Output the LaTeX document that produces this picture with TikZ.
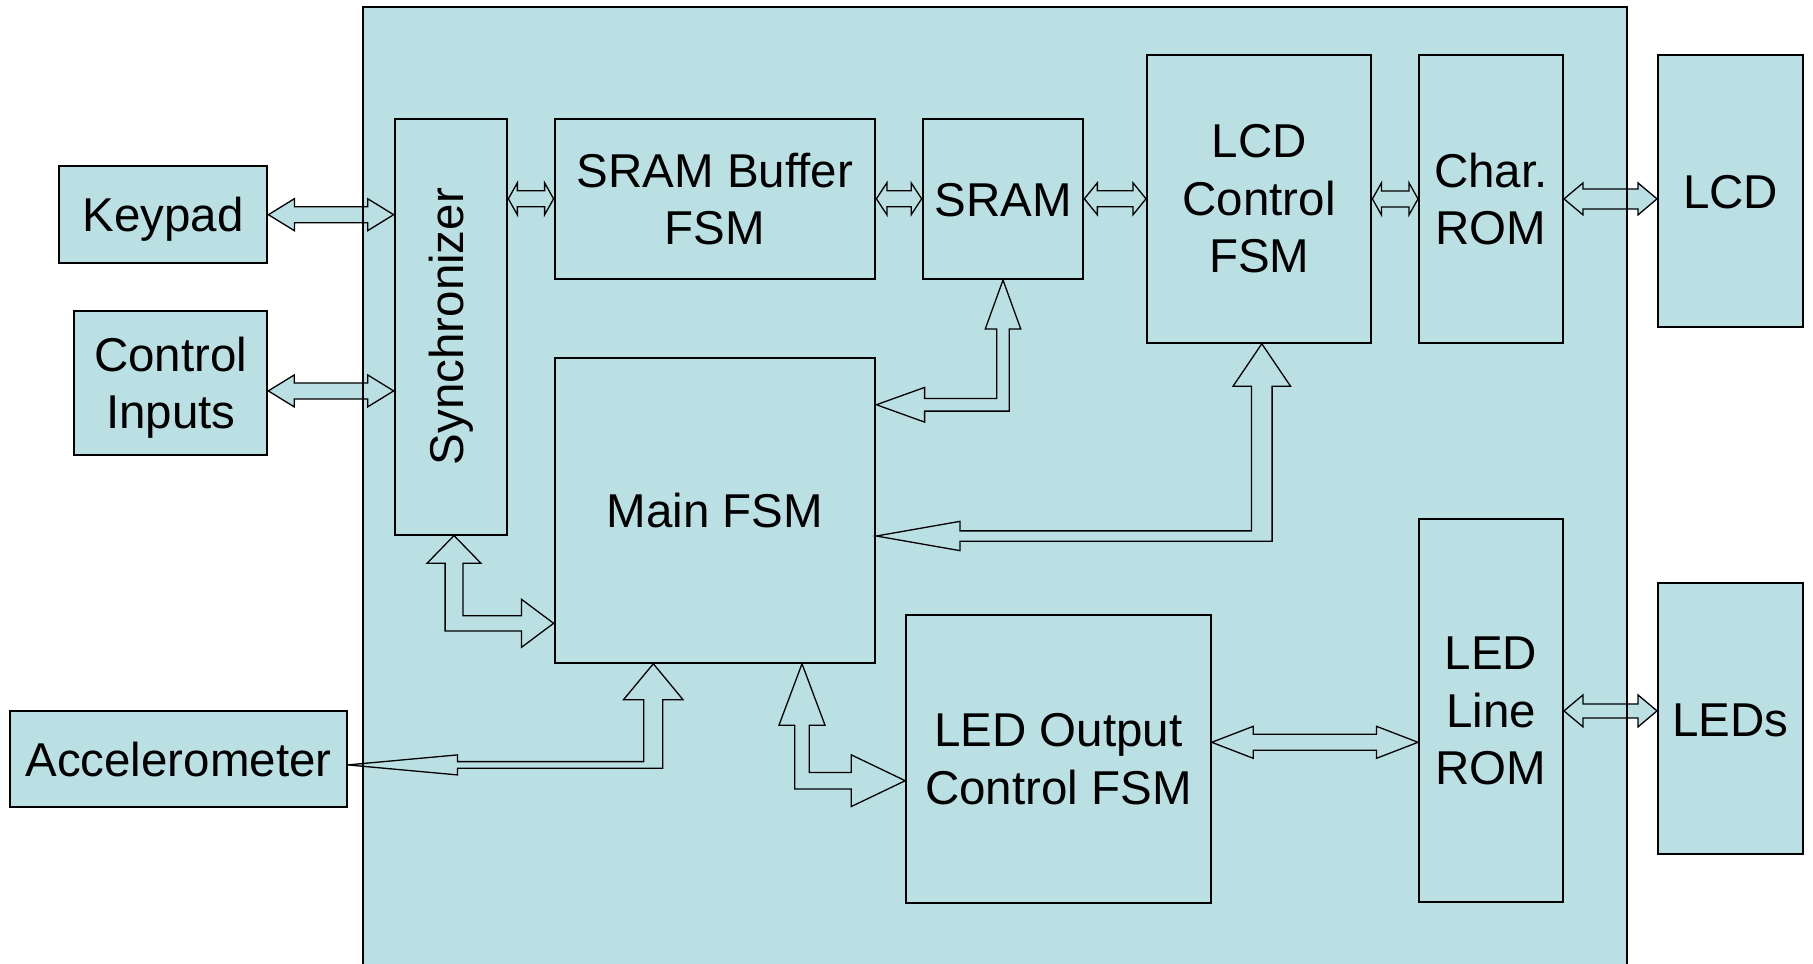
\documentclass[tikz,border=0pt]{standalone}
\usepackage{fontspec}
\usepackage{graphicx}
\setmainfont{Liberation Sans}
\usetikzlibrary{calc}
\definecolor{boxblue}{HTML}{BBE0E3}

\newcommand{\linestrut}{\rule[-0.175em]{0pt}{1.08em}}

\tikzstyle{module} = [rectangle,draw,fill=boxblue,line width=2pt,inner sep=0pt,align=center]
\tikzstyle{oneline} = [module,execute at begin node=\linestrut]
\tikzstyle{blockarrow} = [draw,fill=boxblue,line width=1.3pt]
\tikzstyle{every node}=[font=\fontsize{47.5}{57.5}\selectfont]

% double headed block arrow: left tip, right tip, head length, head half width, shaft half width
\newcommand{\dblarrow}[5]{%
  \draw[blockarrow] let \p1=(#1), \p2=(#2) in
    (\x1,\y1) -- (\x1+#3pt,\y1+#4pt) -- (\x1+#3pt,\y1+#5pt) -- (\x2-#3pt,\y1+#5pt)
    -- (\x2-#3pt,\y1+#4pt) -- (\x2,\y1) -- (\x2-#3pt,\y1-#4pt) -- (\x2-#3pt,\y1-#5pt)
    -- (\x1+#3pt,\y1-#5pt) -- (\x1+#3pt,\y1-#4pt) -- cycle;}

% bent block arrow: upper tip, side tip, side (1 left, -1 right),
% up head length, up head half width, up shaft half width, side head length, side head half width, side shaft half width
\newcommand{\bendarrow}[9]{%
  \draw[blockarrow] let \p1=(#1), \p2=(#2) in
    (\x1,\y1) -- ({\x1+#3*#5pt},{\y1-#4pt}) -- ({\x1+#3*#6pt},{\y1-#4pt})
    -- ({\x1+#3*#6pt},{\y2-#9pt}) -- ({\x2+#3*#7pt},{\y2-#9pt}) -- ({\x2+#3*#7pt},{\y2-#8pt})
    -- (\x2,\y2) -- ({\x2+#3*#7pt},{\y2+#8pt}) -- ({\x2+#3*#7pt},{\y2+#9pt})
    -- ({\x1-#3*#6pt},{\y2+#9pt}) -- ({\x1-#3*#6pt},{\y1-#4pt}) -- ({\x1-#3*#5pt},{\y1-#4pt}) -- cycle;}

\begin{document}
\begin{tikzpicture}[x=1pt,y=-1pt]
    \clip (0,0) rectangle (1813,964);
    \node[fill=boxblue,minimum width=1264pt,minimum height=1100pt,inner sep=0pt,anchor=north west] (chip) at (363,7) {};

    % outside world
    \node[oneline,minimum width=208.8pt,minimum height=96.6pt] (keypad) at (163,214.7) {Keypad};
    \node[module,minimum width=193pt,minimum height=144.3pt] (ctrlin) at (170.8,382.9) {Control\\\smash{Inputs}};
    \node[oneline,minimum width=336.4pt,minimum height=95.7pt] (accel) at (178.5,758.9) {Accelerometer};
    \node[oneline,minimum width=145pt,minimum height=272pt] (lcd) at (1730.5,191) {LCD};
    \node[oneline,minimum width=145pt,minimum height=271pt] (leds) at (1730.5,718.8) {LEDs};

    % inside the chip
    \node[module,minimum width=112.7pt,minimum height=416pt] (sync) at (451,326.6) {\rotatebox{90}{Synchronizer}};
    \node[module,minimum width=320.8pt,minimum height=160.4pt] (srambuf) at (715,198.8) {SRAM Buffer\\FSM};
    \node[oneline,minimum width=160.7pt,minimum height=160.4pt] (sram) at (1003,198.8) {SRAM};
    \node[module,minimum width=224.4pt,minimum height=287.7pt] (lcdctl) at (1259.2,198.9) {LCD\\Control\\FSM};
    \node[module,minimum width=144pt,minimum height=287.7pt] (charrom) at (1491,198.9) {Char.\\ROM};
    \node[oneline,minimum width=320.8pt,minimum height=304.7pt] (mainfsm) at (715,510.4) {Main FSM};
    \node[module,minimum width=304.5pt,minimum height=287.7pt] (ledout) at (1058.5,758.9) {LED Output\\Control FSM};
    \node[module,minimum width=144pt,minimum height=383pt] (ledrom) at (1491,710.9) {LED\\Line\\ROM};

    \dblarrow{keypad.east}{sync.west}{26}{16}{8}
    \dblarrow{[yshift=-8pt]ctrlin.east}{sync.west}{26}{16}{8}
    \dblarrow{sync.east |- srambuf.west}{srambuf.west}{9}{16}{8}
    \dblarrow{srambuf.east}{sram.west}{10.5}{16}{8}
    \dblarrow{sram.east}{lcdctl.west}{13}{16}{8}
    \dblarrow{lcdctl.east}{charrom.west}{9}{16}{8}
    \dblarrow{charrom.east}{lcd.west}{19}{16}{10}
    \dblarrow{[yshift=16.6pt]ledout.east}{ledrom.west}{41.5}{16}{8}
    \dblarrow{ledrom.east}{leds.west}{19}{16}{7}

    \bendarrow{sram.south}{[yshift=-47.7pt]mainfsm.north east}{1}{49}{17.75}{6.3}{48.2}{17.35}{6.35}
    \bendarrow{[xshift=2.6pt]lcdctl.south}{[yshift=-25.6pt]mainfsm.east}{1}{42.4}{28.7}{10.3}{83.6}{14.65}{5.15}
    \bendarrow{[xshift=3pt]sync.south}{[yshift=-112.9pt]mainfsm.west}{-1}{27.7}{27}{8.9}{32.1}{24}{7.65}
    \bendarrow{[xshift=-61.7pt]mainfsm.south}{[yshift=-6pt]accel.east}{1}{36}{29.8}{9.5}{109.7}{10}{3.3}
    \bendarrow{[xshift=87pt]mainfsm.south}{[yshift=-21.8pt]ledout.west}{-1}{61.4}{23}{7.2}{54}{25.85}{8.2}

    \draw[line width=2pt] (chip.south west) rectangle (chip.north east);
\end{tikzpicture}
\end{document}
